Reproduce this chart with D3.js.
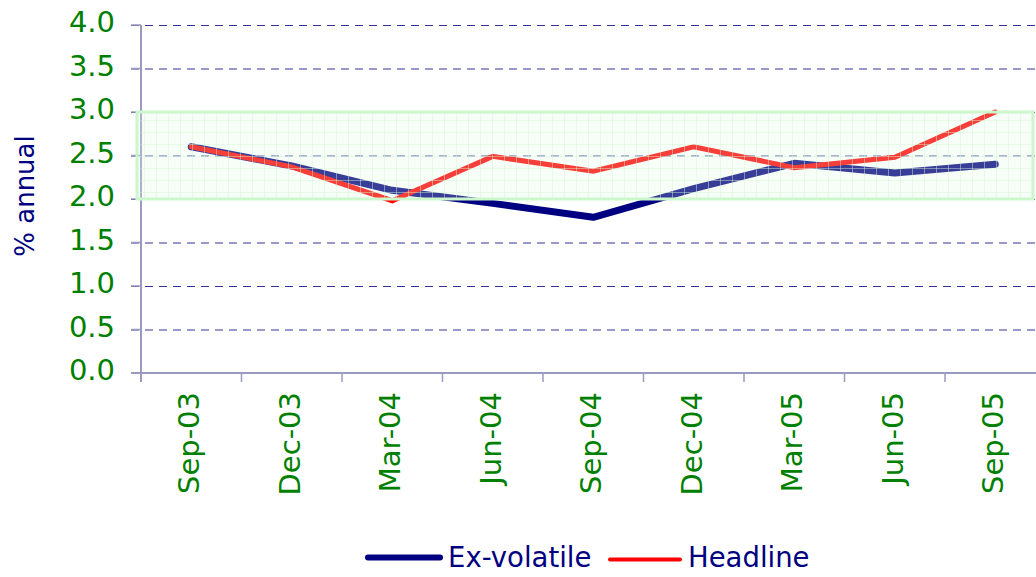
<!DOCTYPE html>
<html>
<head>
<meta charset="utf-8">
<script src="https://cdn.jsdelivr.net/npm/d3@7"></script>
<style>
  body { margin: 0; background: #fff; }
  svg { display: block; font-family: "DejaVu Sans", Verdana, sans-serif; }
</style>
</head>
<body>
<div id="graph"></div>
<script>
// quarterly observations, % annual
var quarters = ["Sep-03", "Dec-03", "Mar-04", "Jun-04", "Sep-04", "Dec-04", "Mar-05", "Jun-05", "Sep-05"]
var exVolatile = [2.60, 2.38, 2.10, 1.95, 1.79, 2.12, 2.41, 2.30, 2.40]
var headline = [2.60, 2.37, 1.98, 2.49, 2.32, 2.60, 2.36, 2.48, 3.00]
var yTicks = [0, 0.5, 1, 1.5, 2, 2.5, 3, 3.5, 4]
var targetBand = [2, 3]

var W = 1036, H = 577
var margin = {top: 25, left: 141, bottom: 204}
var plotRight = 1045.5

var svg = d3.select("#graph").append("svg")
    .attr("width", W)
    .attr("height", H)

var x = d3.scaleBand()
    .domain(quarters)
    .range([margin.left, plotRight])

var y = d3.scaleLinear()
    .domain([0, 4])
    .range([H - margin.bottom, margin.top])

var xc = function(d) { return x(d) + x.bandwidth() / 2 }

var defs = svg.append("defs")
var pat = defs.append("pattern")
    .attr("id", "bandFill")
    .attr("patternUnits", "userSpaceOnUse")
    .attr("width", 12).attr("height", 12)
pat.append("rect").attr("width", 12).attr("height", 12)
    .attr("fill", "#e0f8e0").attr("fill-opacity", 0.25)
pat.append("path").attr("d", "M0,0.5H12M0.5,0V12")
    .attr("stroke", "#d4f4d4").attr("stroke-width", 1).attr("stroke-opacity", 0.45)

// gridlines
svg.append("g")
    .attr("class", "grid")
    .selectAll("line")
    .data(yTicks.filter(function(d) { return d > 0 }))
    .enter().append("line")
    .attr("x1", margin.left - 10)
    .attr("x2", W)
    .attr("y1", function(d) { return y(d) + 0.5 })
    .attr("y2", function(d) { return y(d) + 0.5 })
    .attr("stroke", "#333399")
    .attr("stroke-width", 1)
    .attr("stroke-dasharray", "8,6")

// y axis
var yAxis = svg.append("g").attr("class", "axis axis--y")
yAxis.append("line")
    .attr("x1", margin.left).attr("x2", margin.left)
    .attr("y1", y(4)).attr("y2", y(0) + 9)
    .attr("stroke", "#9a9ac0").attr("stroke-width", 2)
yAxis.selectAll(".tick")
    .data(yTicks)
    .enter().append("line")
    .attr("x1", margin.left - 10).attr("x2", margin.left)
    .attr("y1", function(d) { return y(d) }).attr("y2", function(d) { return y(d) })
    .attr("stroke", "#9a9ac0").attr("stroke-width", 1.5)
yAxis.selectAll("text")
    .data(yTicks)
    .enter().append("text")
    .attr("x", 115)
    .attr("y", function(d) { return y(d) + 7 })
    .attr("text-anchor", "end")
    .attr("fill", "#008000")
    .style("font-size", "29px")
    .text(function(d) { return d3.format(".1f")(d) })

// x axis
var xAxis = svg.append("g").attr("class", "axis axis--x")
xAxis.append("line")
    .attr("x1", margin.left - 10).attr("x2", W)
    .attr("y1", y(0)).attr("y2", y(0))
    .attr("stroke", "#9a9ac0").attr("stroke-width", 2)
xAxis.selectAll(".tick")
    .data(quarters.slice(1))
    .enter().append("line")
    .attr("x1", function(d) { return x(d) }).attr("x2", function(d) { return x(d) })
    .attr("y1", y(0)).attr("y2", y(0) + 9)
    .attr("stroke", "#9a9ac0").attr("stroke-width", 1.5)
xAxis.selectAll("text")
    .data(quarters)
    .enter().append("text")
    .attr("transform", function(d) { return "translate(" + (xc(d) + 8) + "," + (y(0) + 19) + ") rotate(-90)" })
    .attr("text-anchor", "end")
    .attr("fill", "#008000")
    .style("font-size", "29px")
    .text(function(d) { return d })

// y title
svg.append("text")
    .attr("transform", "translate(34," + 196 + ") rotate(-90)")
    .attr("text-anchor", "middle")
    .attr("fill", "#000080")
    .style("font-size", "26px")
    .text("% annual")

// series
var line = d3.line()
    .x(function(d, i) { return xc(quarters[i]) })
    .y(function(d) { return y(d) })

svg.append("path")
    .datum(exVolatile)
    .attr("class", "line")
    .attr("fill", "none")
    .attr("stroke", "#000080")
    .attr("stroke-width", 7)
    .attr("stroke-linejoin", "round")
    .attr("stroke-linecap", "round")
    .attr("d", line)

svg.append("path")
    .datum(headline)
    .attr("class", "line")
    .attr("fill", "none")
    .attr("stroke", "#ff0000")
    .attr("stroke-width", 5)
    .attr("stroke-linejoin", "miter")
    .attr("stroke-linecap", "round")
    .attr("d", line)

// target band sits over the lines
svg.append("rect")
    .attr("x", margin.left - 4)
    .attr("y", y(targetBand[1]))
    .attr("width", W - 3 - (margin.left - 4))
    .attr("height", y(targetBand[0]) - y(targetBand[1]))
    .attr("fill", "url(#bandFill)")
    .attr("stroke", "#ccf7cc")
    .attr("stroke-width", 3)

// legend
var legend = svg.append("g").attr("class", "legend")
var items = [
    {name: "Ex-volatile", color: "#000080", w: 6, x0: 368, x1: 440, ly: 557.5},
    {name: "Headline", color: "#ff0000", w: 4, x0: 610, x1: 680, ly: 559.5}
]
items.forEach(function(it) {
    legend.append("line")
        .attr("x1", it.x0).attr("x2", it.x1)
        .attr("y1", it.ly).attr("y2", it.ly)
        .attr("stroke", it.color)
        .attr("stroke-width", it.w)
        .attr("stroke-linecap", "round")
    legend.append("text")
        .attr("x", it.x1 + 8)
        .attr("y", 567)
        .attr("fill", "#000080")
        .style("font-size", "27.5px")
        .text(it.name)
})
</script>
</body>
</html>
